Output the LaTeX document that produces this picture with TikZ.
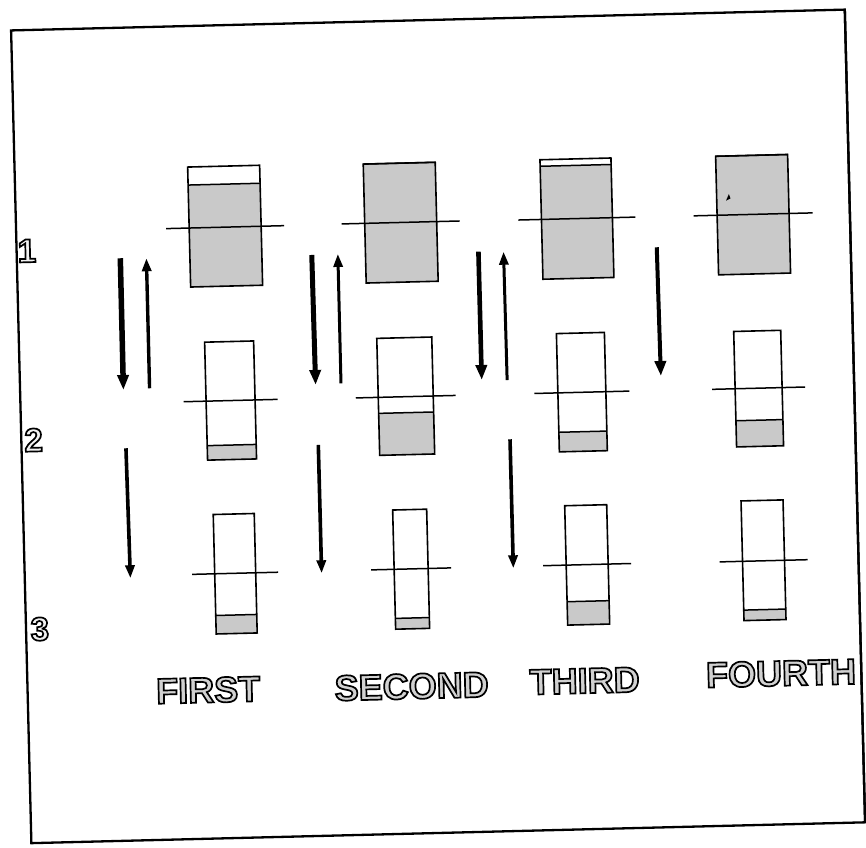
\documentclass[tikz,border=0pt]{standalone}
\usepackage{fontspec}
\newfontfamily\lblfont{Liberation Sans}
\usetikzlibrary{arrows.meta}
\definecolor{screen}{gray}{0.79}
\definecolor{lettergray}{gray}{0.82}
\definecolor{digitgray}{gray}{0.95}
\tikzset{
  frameline/.style={line width=2.3pt},
  boxnode/.style={draw, line width=1.6pt, inner sep=0pt, outer sep=0pt},
  divline/.style={line width=1.5pt},
  crossline/.style={line width=1.5pt},
  shade/.style={fill=screen},
  heavyarrow/.style={line width=#1, -{Triangle[length=15pt,width=11pt]}},
  lightarrow/.style={line width=#1, -{Triangle[length=13pt,width=9pt]}},
  wordlbl/.style={inner sep=0pt, font=\lblfont\bfseries\fontsize{36}{40}\selectfont, text=lettergray},
  digitlbl/.style={inner sep=0pt, font=\lblfont\bfseries\fontsize{33}{36}\selectfont, text=digitgray}
}
% box: name, cx, width, top, bottom, top of grey part, cross-line y, cross-line half length
\newcommand\tank[8]{%
  \fill[shade] ({#2-#3/2},#6) rectangle ({#2+#3/2},#5);
  \draw[divline] ({#2-#3/2},#6) -- ({#2+#3/2},#6);
  \node[boxnode, minimum width=#3pt, minimum height={(#5-#4)*1pt}, anchor=north] (#1) at (#2,#4) {};
  \draw[crossline] ({#2-#8},#7) -- ({#2+#8},#7);
}
% outlined text (fill in the text colour, black stroke)
\newcommand\outlined[1]{\special{pdf:literal direct 2 Tr 1.7 w 0 G}#1\special{pdf:literal direct 0 Tr}}
\begin{document}
\begin{tikzpicture}[x=1pt,y=-1pt]
\useasboundingbox (0,0) rectangle (866,847);
\begin{scope}[rotate around={1.43:(433,423)}, transform shape]
  % frame
  \draw[frameline] (21,20) rectangle (855,833);
  % column 1 (FIRST)
  \tank{b11}{230.1}{72}{161}{281}{179}{222}{59}
  \tank{b21}{231.2}{49}{336.5}{454.5}{440}{395.5}{47}
  \tank{b31}{231.5}{41}{509}{628.5}{610}{568.3}{43}
  % column 2 (SECOND)
  \tank{b12}{405.7}{72}{162.4}{281.4}{162.4}{221.7}{59}
  \tank{b22}{406.4}{55}{337}{454}{412}{396}{50}
  \tank{b32}{407.5}{34}{509}{628.2}{617.4}{568.3}{40}
  % column 3 (THIRD)
  \tank{b13}{582}{71}{162.5}{282}{169}{222.2}{58.5}
  \tank{b23}{582.6}{48}{336.7}{455}{435.4}{396}{47.5}
  \tank{b33}{583.6}{42}{509}{628.4}{605}{568.4}{44}
  % column 4 (FOURTH)
  \tank{b14}{758.2}{72}{163.4}{282}{163.4}{222.4}{59.5}
  \tank{b24}{759.4}{47}{339}{454.5}{428.3}{396.3}{46.5}
  \tank{b34}{760}{42}{508.6}{628.3}{617.8}{569}{44}
  \fill (731.5,208) -- (734.5,201.5) -- (736,206) -- cycle;
  % arrows between row 1 and row 2
  \coordinate (a1s) at (124.5,250.5); \coordinate (a1e) at (124.3,382.3);
  \coordinate (b1s) at (150.5,381.2); \coordinate (b1e) at (150.6,251.1);
  \coordinate (a2s) at (316,252);     \coordinate (a2e) at (316.6,382);
  \coordinate (b2s) at (342,381);     \coordinate (b2e) at (342.1,251.6);
  \coordinate (a3s) at (482.7,252.8); \coordinate (a3e) at (482.8,381.2);
  \coordinate (b3s) at (508.2,381.9); \coordinate (b3e) at (507.8,253.5);
  \coordinate (a4s) at (661.1,252.9); \coordinate (a4e) at (662,381.7);
  \draw[heavyarrow=5.5pt] (a1s) -- (a1e);
  \draw[lightarrow=3.4pt] (b1s) -- (b1e);
  \draw[heavyarrow=5pt] (a2s) -- (a2e);
  \draw[lightarrow=3pt] (b2s) -- (b2e);
  \draw[heavyarrow=4.6pt] (a3s) -- (a3e);
  \draw[lightarrow=3pt] (b3s) -- (b3e);
  \draw[heavyarrow=4pt] (a4s) -- (a4e);
  % arrows between row 2 and row 3
  \coordinate (c1s) at (125.4,440.6); \coordinate (c1e) at (126.6,570.7);
  \coordinate (c2s) at (317.8,442.1); \coordinate (c2e) at (317.9,570.5);
  \coordinate (c3s) at (509.6,441.2); \coordinate (c3e) at (509.7,570.3);
  \draw[lightarrow=3.6pt] (c1s) -- (c1e);
  \draw[lightarrow=3.6pt] (c2s) -- (c2e);
  \draw[lightarrow=3.6pt] (c3s) -- (c3e);
  % row numbers
  \node[digitlbl] (n1) at (31.3,240.8) {\outlined{1}};
  \node[digitlbl] (n2) at (33.3,430) {\outlined{2}};
  \node[digitlbl] (n3) at (34.8,619.2) {\outlined{3}};
  % column names
  \node[wordlbl] (l1) at (201.6,684.4) {\outlined{FIRST}};
  \node[wordlbl] (l2) at (405.1,685.8) {\outlined{SECOND}};
  \node[wordlbl] (l3) at (578.2,684.6) {\outlined{THIRD}};
  \node[wordlbl, anchor=west] (l4) at (699.5,682) {\outlined{FOURTH}};
  % frame right edge redrawn over the last label
  \draw[frameline] (855,20) -- (855,833);
\end{scope}
\end{tikzpicture}
\end{document}
